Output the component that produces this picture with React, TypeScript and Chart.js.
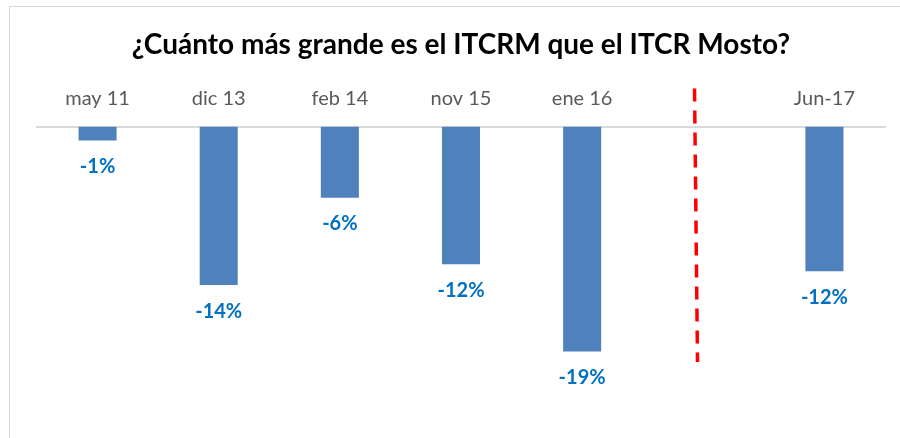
import React, { useEffect, useRef } from "react";
import { Chart, registerables } from "chart.js";

Chart.register(...registerables);

const TITLE = "¿Cuánto más grande es el ITCRM que el ITCR Mosto?";
const categories = ["may 11", "dic 13", "feb 14", "nov 15", "ene 16", "", "Jun-17"];
const values: (number | null)[] = [-1.2, -13.6, -6.1, -11.8, -19.3, null, -12.4];
const Y_MIN = -25;
const Y_MAX = 0;
const DIVIDER_INDEX = 5;
const DIVIDER_END_VALUE = -20.2;

const labelPlugin = {
  id: "barLabels",
  afterDatasetsDraw(chart: any) {
    const ctx = chart.ctx;
    const meta = chart.getDatasetMeta(0);
    ctx.save();
    ctx.font = "bold 20px Lato";
    ctx.fillStyle = "#0070C0";
    ctx.textAlign = "center";
    ctx.textBaseline = "middle";
    meta.data.forEach((el: any, i: number) => {
      const v = values[i];
      if (v === null || v === undefined) return;
      ctx.fillText(Math.round(v) + "%", el.x, el.y + 26);
    });
    ctx.restore();
  },
};

const dividerPlugin = {
  id: "divider",
  afterDraw(chart: any) {
    const ctx = chart.ctx;
    const xs = chart.scales.x;
    const ys = chart.scales.y;
    const cat = (chart.chartArea.right - chart.chartArea.left) / categories.length;
    const x = xs.getPixelForValue(DIVIDER_INDEX) - cat * 0.06;
    const yTop = chart.chartArea.top - 38;
    const yBot = ys.getPixelForValue(DIVIDER_END_VALUE);
    ctx.save();
    ctx.strokeStyle = "#FF0000";
    ctx.lineWidth = 3.5;
    ctx.setLineDash([13, 9]);
    ctx.beginPath();
    ctx.moveTo(x - 1.5, yTop);
    ctx.lineTo(x + 1.5, yBot);
    ctx.stroke();
    ctx.restore();
  },
};

function BarChart() {
  const ref = useRef<HTMLCanvasElement>(null);
  useEffect(() => {
    if (!ref.current) return;
    const chart = new Chart(ref.current, {
      type: "bar",
      data: {
        labels: categories,
        datasets: [
          {
            data: values,
            backgroundColor: "#4F81BD",
            borderWidth: 0,
            categoryPercentage: 1,
            barPercentage: 0.314,
          },
        ],
      },
      options: {
        animation: false,
        responsive: false,
        maintainAspectRatio: false,
        layout: { padding: { left: 27, right: 25, top: 0, bottom: 20 } },
        plugins: {
          legend: { display: false },
          tooltip: { enabled: false },
          title: {
            display: true,
            text: TITLE,
            color: "#000000",
            font: { family: "Lato", size: 28, weight: "bold" },
            padding: { top: 28, bottom: 9 },
          },
        },
        scales: {
          x: {
            position: "top",
            grid: { display: false, drawTicks: false },
            border: { display: true, color: "#D9D9D9", width: 2 },
            ticks: {
              color: "#595959",
              font: { family: "Lato", size: 20 },
              padding: 16,
            },
          },
          y: {
            display: false,
            min: Y_MIN,
            max: Y_MAX,
          },
        },
      },
      plugins: [labelPlugin, dividerPlugin],
    });
    return () => chart.destroy();
  }, []);
  return (
    <canvas
      ref={ref}
      width={900}
      height={438}
      style={{ position: "absolute", left: 10, top: 0, width: 900, height: 438 }}
    />
  );
}

export default function App() {
  return (
    <div
      style={{
        position: "fixed",
        left: 0,
        top: 0,
        width: 900,
        height: 438,
        overflow: "hidden",
        background: "#ffffff",
      }}
    >
      <div
        style={{
          position: "absolute",
          left: 9,
          top: 6,
          width: 1000,
          height: 1000,
          borderLeft: "1px solid #D9D9D9",
          borderTop: "1px solid #D9D9D9",
        }}
      />
      <BarChart />
    </div>
  );
}
